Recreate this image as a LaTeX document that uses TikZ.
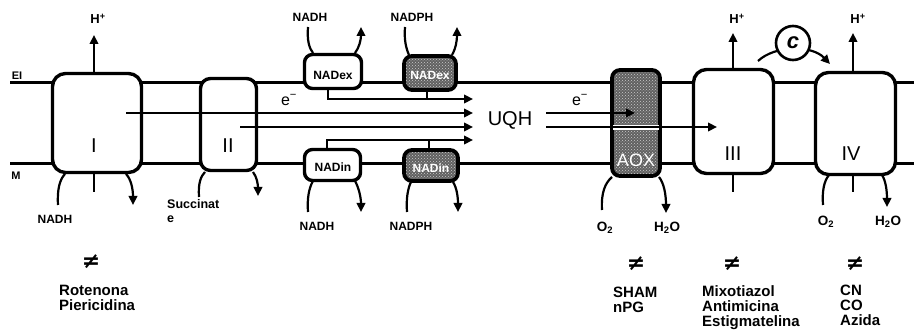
\documentclass[tikz,border=0pt]{standalone}
\usepackage{fontspec}
\setmainfont{Liberation Sans}
\newfontfamily\djsans{DejaVu Sans}
\usetikzlibrary{arrows.meta,patterns}
\begin{document}
\begin{tikzpicture}[x=1pt,y=-1pt,
  box/.style={draw,line width=3.4pt,fill=white,inner sep=0pt,rounded corners=12pt},
  shbox/.style={fill=black!62,inner sep=0pt,rounded corners=8pt,
    postaction={pattern=crosshatch dots,pattern color=white!80!black},
    postaction={draw,line width=3.8pt}},
  mem/.style={line width=3pt},
  con/.style={line width=2.2pt},
  arr/.style={line width=2.2pt,-{Triangle[length=9pt,width=8.5pt]}},
  sm/.style={font=\bfseries\fontsize{12}{14}\selectfont,inner sep=0pt},
  sub/.style={font=\bfseries\fontsize{13.5}{14}\selectfont,inner sep=0pt},
  rom/.style={font=\fontsize{20}{20}\selectfont,inner sep=0pt},
  inh/.style={font=\bfseries\fontsize{15}{15}\selectfont,align=left,anchor=north west,inner sep=0pt},
  neq/.style={font=\djsans\bfseries\fontsize{22}{22}\selectfont,inner sep=0pt},
  big/.style={font=\fontsize{20}{20}\selectfont,inner sep=0pt},
  el/.style={font=\fontsize{16}{16}\selectfont,inner sep=0pt},
  hp/.style={font=\bfseries\fontsize{13}{13}\selectfont,inner sep=0pt},
]
\useasboundingbox (0,0) rectangle (914,331);

% membranes
\path (10,83) coordinate (mtL) (914,83) coordinate (mtR)
      (10,164) coordinate (mbL) (914,164) coordinate (mbR);
\draw[mem] (mtL) -- (mtR);
\draw[mem] (mbL) -- (mbR);
\node[sm,font=\bfseries\fontsize{11}{11}\selectfont] (EI) at (17,76) {EI};
\node[sm,font=\bfseries\fontsize{11}{11}\selectfont] (M) at (16,176) {M};

% boxes
\node[box,minimum width=89pt,minimum height=99pt,rounded corners=13pt] (I) at (97,123) {};
\node[box,minimum width=56pt,minimum height=92pt,rounded corners=10pt] (II) at (228.5,124.5) {};
\node[box,minimum width=57pt,minimum height=34pt,rounded corners=8pt] (NADex) at (333,71.5) {};
\node[shbox,minimum width=52pt,minimum height=34pt] (NADexs) at (430,73) {};
\node[box,minimum width=56pt,minimum height=31pt,rounded corners=8pt] (NADin) at (332.5,165) {};
\node[shbox,minimum width=54pt,minimum height=31pt] (NADins) at (431,165.5) {};
\node[shbox,minimum width=48pt,minimum height=106pt] (AOX) at (636,123) {};
\node[fill=white,minimum width=46pt,minimum height=5pt,inner sep=0pt] (AOXgap) at (636,127.5) {};
\node[box,minimum width=80pt,minimum height=104pt,rounded corners=13pt] (III) at (733.5,121.5) {};
\node[box,minimum width=80pt,minimum height=102pt,rounded corners=13pt] (IV) at (855.5,123.5) {};

% box labels
\node[rom] (lI) at (94,146) {I};
\node[rom] (lII) at (228,146) {II};
\node[rom] (lIII) at (733,154) {III};
\node[rom] (lIV) at (851,154) {IV};
\node[sm] (tNADex) at (333,75) {NADex};
\node[sm,text=white] (tNADexs) at (430,75) {NADex};
\node[sm] (tNADin) at (333,167) {NADin};
\node[sm,text=white] (tNADins) at (431,168) {NADin};
\node[font=\fontsize{18}{18}\selectfont,text=white,inner sep=0pt] (tAOX) at (636,160) {AOX};
\node[big] (UQH) at (510,120) {UQH};
\node[el] (e1) at (289,100) {e\textsuperscript{−}};
\node[el] (e2) at (580,100) {e\textsuperscript{−}};

% electron arrows to UQH
\path (328,88.5) coordinate (exA) (473,99) coordinate (tip1)
      (427,90) coordinate (exsA) (427,99) coordinate (exsB)
      (126,113) coordinate (Ia) (473,113) coordinate (tip2)
      (240,127) coordinate (IIa) (473,127) coordinate (tip3)
      (327,149.5) coordinate (inA) (473,140) coordinate (tip4)
      (429,150) coordinate (insA) (429,140) coordinate (insB)
      (546,113) coordinate (uq1) (635,113) coordinate (aoxT)
      (546,127) coordinate (uq2) (717,127) coordinate (IIIT);
\draw[arr] (exA) |- (tip1);
\draw[con] (exsA) -- (exsB);
\draw[arr] (Ia) -- (tip2);
\draw[arr] (IIa) -- (tip3);
\draw[arr] (inA) |- (tip4);
\draw[con] (insA) -- (insB);
\draw[arr] (uq1) -- (aoxT);
\draw[arr] (uq2) -- (IIIT);

% proton pumping
\path (94,73.5) coordinate (hIa) (94,35) coordinate (hIb)
      (733,69.5) coordinate (hIIIa) (733,33) coordinate (hIIIb)
      (853,72.5) coordinate (hIVa) (853,33) coordinate (hIVb);
\draw[arr] (hIa) -- (hIb);
\draw[arr] (hIIIa) -- (hIIIb);
\draw[arr] (hIVa) -- (hIVb);
\node[hp] (H1) at (98,19) {H\textsuperscript{+}};
\node[hp] (H3) at (737,19) {H\textsuperscript{+}};
\node[hp] (H4) at (858,19) {H\textsuperscript{+}};

% cytochrome c
\path (758,61) coordinate (cL) (830,64) coordinate (cR);
\draw[arr] (cL) .. controls (775,45) and (812,45) .. (cR);
\node[draw,circle,line width=2.6pt,fill=white,minimum size=34pt,inner sep=0pt,
      font=\bfseries\itshape\fontsize{22}{22}\selectfont] (cyt) at (793,43) {c};

% substrate curves
\path (58,205) coordinate (Iin1) (65,174) coordinate (Iin2)
      (126,174) coordinate (Iout1) (133,205) coordinate (Iout2)
      (94,174) coordinate (It1) (94,192) coordinate (It2)
      (199,197) coordinate (IIin1) (205,172) coordinate (IIin2)
      (253,172) coordinate (IIout1) (258,196) coordinate (IIout2)
      (308,27) coordinate (Ein1) (313,53) coordinate (Ein2)
      (355,53) coordinate (Eout1) (361,27) coordinate (Eout2)
      (405,27) coordinate (Esin1) (409,55) coordinate (Esin2)
      (452,55) coordinate (Esout1) (457,27) coordinate (Esout2)
      (308,212) coordinate (Nin1) (313,181) coordinate (Nin2)
      (355,181) coordinate (Nout1) (361,212) coordinate (Nout2)
      (407,212) coordinate (Nsin1) (411,182) coordinate (Nsin2)
      (453,182) coordinate (Nsout1) (458,212) coordinate (Nsout2)
      (602,210) coordinate (Ain1) (612,177) coordinate (Ain2)
      (659,177) coordinate (Aout1) (666,213) coordinate (Aout2)
      (733,174) coordinate (IIIt1) (733,192) coordinate (IIIt2)
      (823,205) coordinate (IVin1) (829,175) coordinate (IVin2)
      (853,175) coordinate (IVt1) (853,192) coordinate (IVt2)
      (882,175) coordinate (IVout1) (887,207) coordinate (IVout2);
\draw[con] (Iin1) .. controls (57,189) and (60,179) .. (Iin2);
\draw[arr] (Iout1) .. controls (131,179) and (133,189) .. (Iout2);
\draw[con] (It1) -- (It2);
\draw[con] (IIin1) .. controls (198,183) and (201,176) .. (IIin2);
\draw[arr] (IIout1) .. controls (257,177) and (258,185) .. (IIout2);
\draw[con] (Ein1) .. controls (307,40) and (309,48) .. (Ein2);
\draw[arr] (Eout1) .. controls (359,48) and (361,40) .. (Eout2);
\draw[con] (Esin1) .. controls (404,40) and (406,48) .. (Esin2);
\draw[arr] (Esout1) .. controls (456,48) and (457,40) .. (Esout2);
\draw[con] (Nin1) .. controls (307,198) and (309,188) .. (Nin2);
\draw[arr] (Nout1) .. controls (359,188) and (361,198) .. (Nout2);
\draw[con] (Nsin1) .. controls (406,198) and (408,188) .. (Nsin2);
\draw[arr] (Nsout1) .. controls (457,188) and (458,198) .. (Nsout2);
\draw[con] (Ain1) .. controls (601,193) and (605,183) .. (Ain2);
\draw[arr] (Aout1) .. controls (664,183) and (666,195) .. (Aout2);
\draw[con] (IIIt1) -- (IIIt2);
\draw[con] (IVin1) .. controls (822,191) and (824,181) .. (IVin2);
\draw[con] (IVt1) -- (IVt2);
\draw[arr] (IVout1) .. controls (886,181) and (887,192) .. (IVout2);

% substrate labels
\node[sm] (sNADH1) at (55,219) {NADH};
\node[sm,font=\bfseries\fontsize{12.5}{14}\selectfont,align=left,anchor=north west] (sSucc) at (167,199) {Succinat\\e};
\node[sm] (sNADH2) at (310,17) {NADH};
\node[sm] (sNADPH2) at (412,17) {NADPH};
\node[sm] (sNADH3) at (317,226) {NADH};
\node[sm] (sNADPH3) at (411,226) {NADPH};
\node[sub] (sO2a) at (605,228) {O\textsubscript{2}};
\node[sub] (sH2Oa) at (667,228) {H\textsubscript{2}O};
\node[sub] (sO2b) at (826,222) {O\textsubscript{2}};
\node[sub] (sH2Ob) at (888,222) {H\textsubscript{2}O};

% inhibitors
\node[neq] (n1) at (91,262) {≠};
\node[neq] (n2) at (636,264) {≠};
\node[neq] (n3) at (732,264) {≠};
\node[neq] (n4) at (855,264) {≠};
\node[inh] (r1) at (59,285) {Rotenona\\Piericidina};
\node[inh] (r2) at (613,287) {SHAM\\nPG};
\node[inh] (r3) at (702,285) {Mixotiazol\\Antimicina\\Estigmatelina};
\node[inh] (r4) at (840,285) {CN\\CO\\Azida};
\end{tikzpicture}
\end{document}
